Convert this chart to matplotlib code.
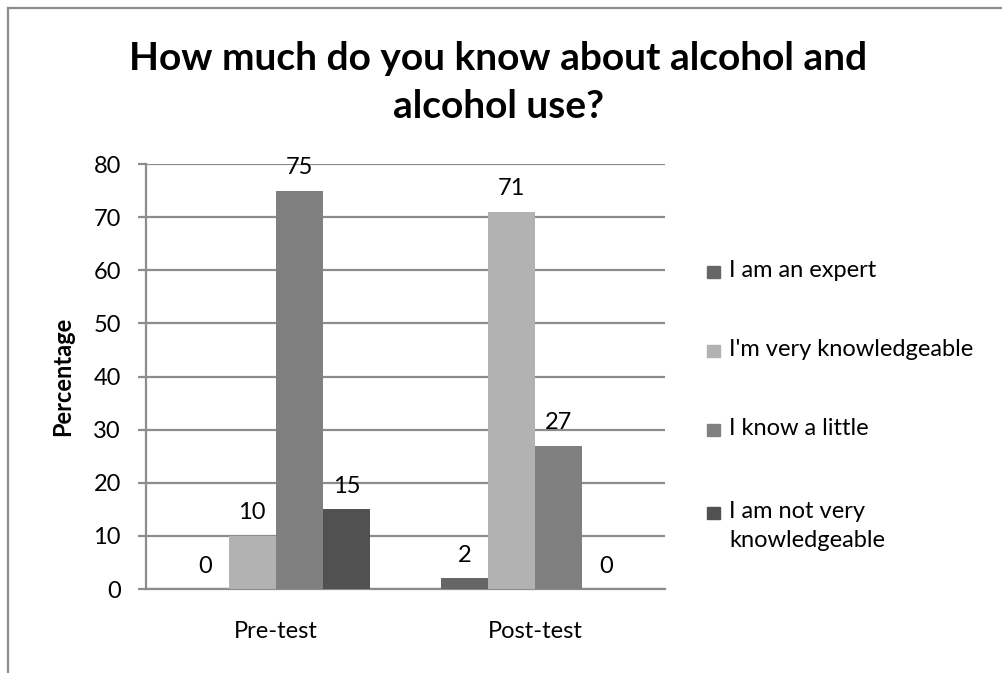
import matplotlib
matplotlib.use('Agg')
import matplotlib.pyplot as plt
from matplotlib.patches import Rectangle
from matplotlib.lines import Line2D
import numpy as np

plt.rcParams['font.family'] = ['Lato', 'DejaVu Sans']

# survey answers, percent of respondents
groups = ['Pre-test', 'Post-test']
answers = ['I am an expert', "I'm very knowledgeable", 'I know a little',
           'I am not very\nknowledgeable']
expert = [0, 2]
very_knowledgeable = [10, 71]
know_little = [75, 27]
not_very = [15, 0]
series = [expert, very_knowledgeable, know_little, not_very]
colors = ['#666666', '#b2b2b2', '#808080', '#515151']

fs = 17

fig = plt.figure(figsize=(10.02, 6.73), dpi=100)
ax = fig.add_axes([0.1457, 0.1248, 0.518, 0.6315])

n = len(series)
w = 1 / (n + 1.5)
x = np.arange(len(groups))
for i, vals in enumerate(series):
    pos = x + (i - (n - 1) / 2) * w
    ax.bar(pos, vals, width=w, color=colors[i], zorder=3)
    for p, v in zip(pos, vals):
        ax.annotate(str(v), (p, v), xytext=(0, 9), textcoords='offset points',
                    ha='center', va='bottom', fontsize=fs, color='black', zorder=4)

ax.set_xlim(-0.5, 1.5)
ax.set_ylim(0, 80)
ax.set_yticks(range(0, 81, 10))
ax.set_xticks(x)
ax.set_xticklabels(groups)
ax.yaxis.grid(True, color='#8c8c8c', linewidth=1.6, zorder=0)
for s in ['top', 'right']:
    ax.spines[s].set_visible(False)
for s in ['left', 'bottom']:
    ax.spines[s].set_color('#8c8c8c')
    ax.spines[s].set_linewidth(1.6)
ax.tick_params(axis='y', length=6, width=1.6, color='#8c8c8c', labelsize=fs, pad=12)
ax.tick_params(axis='x', length=0, labelsize=fs, pad=23)
ax.set_ylabel('Percentage', fontsize=fs, fontweight='bold', labelpad=14)

fig.text(0.4975, 0.877, 'How much do you know about alcohol and\nalcohol use?',
         ha='center', va='center', fontsize=28, fontweight='bold', linespacing=1.45)

# legend drawn by hand so the square sits on the first text line
ly = [272, 351, 430, 513]
for lab, c, yy in zip(answers, colors, ly):
    yf = 1 - yy / 673
    fig.add_artist(Rectangle((707 / 1002, yf - 6 / 673), 13 / 1002, 12 / 673,
                             transform=fig.transFigure, color=c))
    fig.text(729 / 1002, yf + 12 / 673, lab, ha='left', va='top', fontsize=fs,
             linespacing=1.45)

# chart border
fig.add_artist(Line2D([8 / 1002, 1.0], [1 - 8 / 673] * 2, transform=fig.transFigure,
                      color='#8c8c8c', linewidth=1.6))
fig.add_artist(Line2D([8 / 1002] * 2, [0, 1 - 8 / 673], transform=fig.transFigure,
                      color='#8c8c8c', linewidth=1.6))

fig.savefig('out.png', dpi=100)
